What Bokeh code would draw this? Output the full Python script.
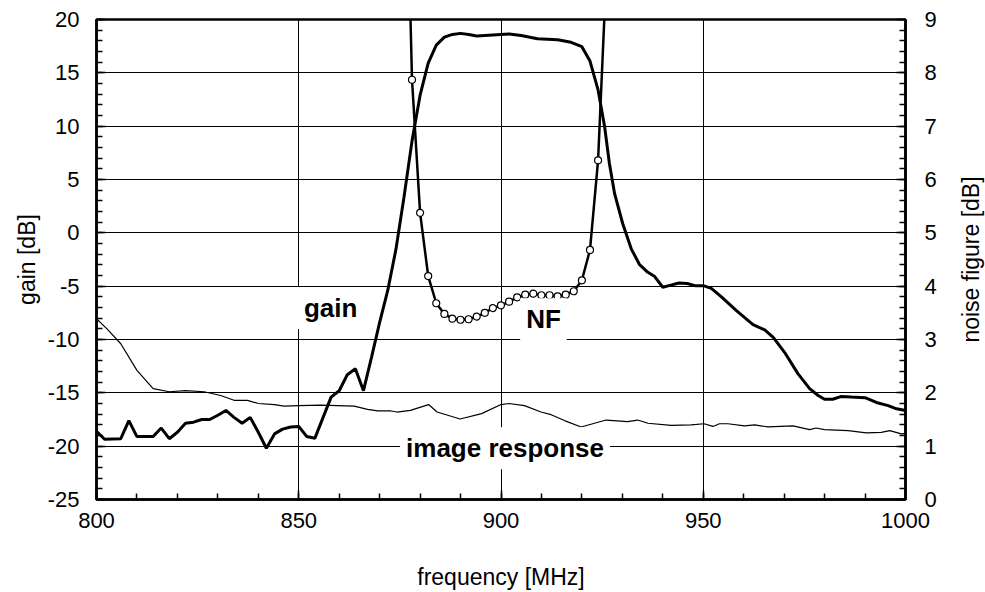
import math
from bokeh.plotting import figure
from bokeh.models import Range1d, LinearAxis, FixedTicker, Label
from bokeh.embed import file_html
from bokeh.resources import INLINE

# ---- data ----
gain_freq = [800, 802, 806, 808, 810, 814, 816, 818, 820, 822, 824, 826, 828, 830,
             832, 834, 836, 838, 840, 842, 844, 846, 848, 850, 852, 854, 858, 860,
             862, 864, 866, 868, 870, 872, 874, 876, 878, 880, 882, 884, 886, 888,
             890, 892, 894, 898, 902, 905, 909, 914, 917, 920, 922, 924, 925.6,
             926.8, 928.1, 930.1, 932.2, 934.2, 936.3, 938, 940, 942, 944, 946, 948,
             950, 952, 954.5, 958.2, 962.3, 965.2, 967.3, 970.1, 973.4, 976.3, 978.4,
             980, 982, 984, 986.6, 990, 992.8, 995.7, 997.8, 1000]
gain_db = [-18.6, -19.35, -19.3, -17.6, -19.1, -19.1, -18.3, -19.3, -18.7, -17.85,
           -17.75, -17.5, -17.5, -17.1, -16.65, -17.3, -17.85, -17.3, -18.7, -20.2,
           -18.85, -18.4, -18.2, -18.15, -19.1, -19.25, -15.4, -14.8, -13.3, -12.75,
           -14.8, -11.65, -8.4, -5.4, -1.6, 3.3, 8.6, 12.9, 15.9, 17.6, 18.35, 18.6,
           18.7, 18.6, 18.45, 18.55, 18.65, 18.5, 18.2, 18.1, 17.9, 17.45, 16.1, 13.4,
           10.0, 6.5, 3.65, 0.85, -1.5, -2.95, -3.7, -4.1, -5.1, -4.9, -4.7, -4.75,
           -4.95, -4.95, -5.2, -6.0, -7.3, -8.6, -9.1, -9.8, -11.2, -13.2, -14.6,
           -15.25, -15.6, -15.6, -15.35, -15.4, -15.45, -15.9, -16.2, -16.5, -16.65]

nf_freq = [876, 878, 880, 882, 884, 886, 888, 890, 892, 894, 896, 898, 900, 902,
           904, 906, 908, 910, 912, 914, 916, 918, 920, 922, 924, 926, 928]
nf_db = [14.0, 7.87, 5.375, 4.19, 3.68, 3.48, 3.39, 3.37, 3.38, 3.43, 3.5, 3.59,
         3.64, 3.71, 3.79, 3.84, 3.86, 3.83, 3.83, 3.81, 3.84, 3.905, 4.11, 4.68,
         6.36, 9.8, 13.0]

img_freq = [800, 802.6, 806, 810, 814, 818, 822, 826.6, 830.7, 834, 837.3, 840, 844,
            846.4, 850, 855.4, 863.7, 867, 869.5, 872.8, 874.3, 877.6, 882.1, 884.2,
            889.9, 895.2, 900, 902, 905.8, 909.9, 912.4, 915.7, 919.8, 926, 931.3,
            933.8, 936.3, 942.1, 947, 950.2, 952.4, 954, 956.1, 960.2, 962.7, 966,
            972.2, 976.3, 977.9, 980, 985.8, 990.3, 994, 996.1, 999, 1000]
img_db = [-8.06, -9.0, -10.4, -12.9, -14.6, -14.9, -14.8, -14.9, -15.25, -15.7,
          -15.7, -16.0, -16.1, -16.25, -16.2, -16.15, -16.25, -16.55, -16.7, -16.7,
          -16.8, -16.65, -16.1, -16.8, -17.45, -16.95, -16.1, -16.0, -16.2, -16.8,
          -17.05, -17.6, -18.2, -17.55, -17.7, -17.55, -17.85, -18.05, -18.0, -17.9,
          -18.15, -17.9, -17.9, -18.1, -18.0, -18.2, -18.1, -18.45, -18.3, -18.45,
          -18.55, -18.75, -18.7, -18.55, -18.85, -18.8]

freq_ticks = [800, 850, 900, 950, 1000]
freq_minor = [800, 810, 820, 830, 840, 850, 860, 870, 880, 890, 900, 910, 920, 930,
              940, 950, 960, 970, 980, 990, 1000]
gain_ticks = [-25, -20, -15, -10, -5, 0, 5, 10, 15, 20]
gain_tick_labels = ["-25", "-20", "-15", "-10", "-5", "0", "5", "10", "15", "20"]
gain_minor = list(range(-25, 21))
nf_ticks = [0, 1, 2, 3, 4, 5, 6, 7, 8, 9]
nf_minor = [round(i * 0.2, 1) for i in range(46)]

FONT = "Liberation Sans"

p = figure(frame_width=809, frame_height=480,
           x_range=Range1d(800, 1000), y_range=Range1d(-25, 20),
           output_backend="svg", toolbar_location=None,
           min_border_left=96, min_border_right=80,
           min_border_top=19, min_border_bottom=93,
           background_fill_color="white", border_fill_color="white")
p.extra_y_ranges = {"nf": Range1d(0, 9)}

p.outline_line_color = "black"
p.outline_line_width = 2.5
p.outline_line_alpha = 1.0

# grids
p.xgrid.ticker = FixedTicker(ticks=freq_ticks)
p.ygrid.ticker = FixedTicker(ticks=gain_ticks)
for g in (p.xgrid[0], p.ygrid[0]):
    g.grid_line_color = "black"
    g.grid_line_width = 1
    g.grid_line_alpha = 1.0


def style_axis(ax, label_standoff, axis_standoff):
    ax.axis_line_width = 2.5
    ax.axis_line_color = "black"
    ax.major_tick_in = 9
    ax.major_tick_out = 0
    ax.minor_tick_in = 6
    ax.minor_tick_out = 0
    ax.major_tick_line_width = 1.5
    ax.minor_tick_line_width = 1.5
    ax.major_tick_line_color = "black"
    ax.minor_tick_line_color = "black"
    ax.major_label_text_font = FONT
    ax.major_label_text_font_size = "22px"
    ax.major_label_text_color = "black"
    ax.major_label_standoff = label_standoff
    ax.axis_label_text_font = FONT
    ax.axis_label_text_font_size = "23px"
    ax.axis_label_text_font_style = "normal"
    ax.axis_label_text_color = "black"
    ax.axis_label_standoff = axis_standoff


xax = p.xaxis[0]
xax.ticker = FixedTicker(ticks=freq_ticks, minor_ticks=freq_minor)
xax.axis_label = "frequency [MHz]"
style_axis(xax, 13, 33)

yax = p.yaxis[0]
yax.ticker = FixedTicker(ticks=gain_ticks, minor_ticks=gain_minor)
yax.major_label_overrides = dict(zip(gain_ticks, gain_tick_labels))
yax.axis_label = "gain [dB]"
style_axis(yax, 17, 5)

rax = LinearAxis(y_range_name="nf",
                 ticker=FixedTicker(ticks=nf_ticks, minor_ticks=nf_minor))
style_axis(rax, 19, 0)
p.add_layout(rax, "right")

# right axis title, rotated to read bottom-to-top (placed in the right panel)
p.add_layout(Label(x=1000, y=4.5, y_range_name="nf", x_offset=65,
                   text="noise figure [dB]", angle=math.pi / 2,
                   text_font=FONT, text_font_size="23px", text_color="black",
                   text_align="center", text_baseline="middle"), "right")

# curves
p.line(img_freq, img_db, line_color="black", line_width=1.2)
p.line(gain_freq, gain_db, line_color="black", line_width=3)
p.line(nf_freq, nf_db, y_range_name="nf", line_color="black", line_width=2.5)
p.scatter(nf_freq, nf_db, y_range_name="nf", size=7, marker="circle",
          fill_color="white", line_color="black", line_width=1.2)

# labels with white boxes
for txt, x, y in (("gain", 857.9, -7.05), ("NF", 910.5, -8.1),
                  ("image response", 901.0, -20.2)):
    p.add_layout(Label(x=x, y=y, text=txt, text_font=FONT,
                       text_font_style="bold", text_font_size="26px",
                       text_color="black", text_align="center",
                       text_baseline="middle",
                       background_fill_color="white", padding=6))

open("out.html", "w").write(file_html(p, INLINE))
